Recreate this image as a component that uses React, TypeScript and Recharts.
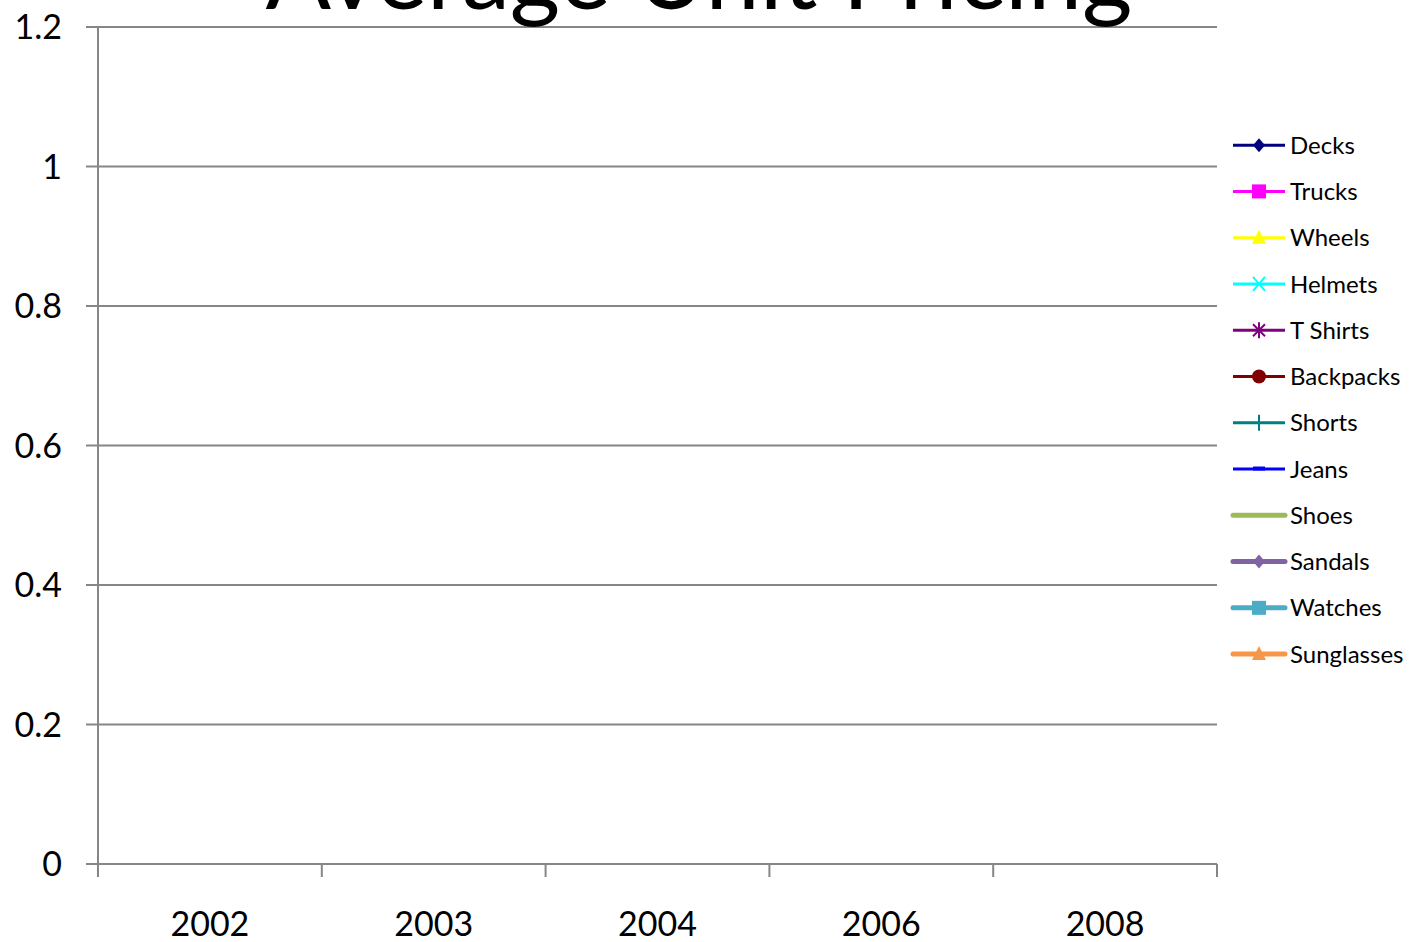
import React from 'react';
import { LineChart, Line, XAxis, YAxis, CartesianGrid, Legend, Customized } from 'recharts';

const years = ['2002', '2003', '2004', '2006', '2008'];
const yTicks = [0, 0.2, 0.4, 0.6, 0.8, 1, 1.2];

// No values are plotted in the reference: every series is empty
const decks = [null, null, null, null, null];
const trucks = [null, null, null, null, null];
const wheels = [null, null, null, null, null];
const helmets = [null, null, null, null, null];
const tShirts = [null, null, null, null, null];
const backpacks = [null, null, null, null, null];
const shorts = [null, null, null, null, null];
const jeans = [null, null, null, null, null];
const shoes = [null, null, null, null, null];
const sandals = [null, null, null, null, null];
const watches = [null, null, null, null, null];
const sunglasses = [null, null, null, null, null];

const seriesNames = ['Decks', 'Trucks', 'Wheels', 'Helmets', 'T Shirts', 'Backpacks', 'Shorts', 'Jeans', 'Shoes', 'Sandals', 'Watches', 'Sunglasses'];
const seriesValues = [decks, trucks, wheels, helmets, tShirts, backpacks, shorts, jeans, shoes, sandals, watches, sunglasses];
const seriesColors = ['#000080', '#FF00FF', '#FFFF00', '#00FFFF', '#800080', '#800000', '#008080', '#0000FF', '#9BBB59', '#8064A2', '#4BACC6', '#F79646'];
const seriesMarkers = ['diamond', 'square', 'triangle', 'x', 'star', 'circle', 'plus', 'dash', 'none', 'diamond', 'square', 'triangle'];
const seriesWidths = [3, 3, 3, 3, 3, 3, 3, 3, 5, 5, 5, 5];

const data = years.map((y, i) => {
  const row: any = { year: y };
  seriesNames.forEach((n, k) => {
    row[n] = seriesValues[k][i];
  });
  return row;
});

const FONT = 'Lato, "Open Sans", sans-serif';
const GRAY = '#868686';

function Marker({ type, color, cx, cy }: { type: string; color: string; cx: number; cy: number }) {
  switch (type) {
    case 'diamond':
      return <polygon points={`${cx},${cy - 7} ${cx + 6},${cy} ${cx},${cy + 7} ${cx - 6},${cy}`} fill={color} />;
    case 'square':
      return <rect x={cx - 7} y={cy - 7} width={14} height={14} fill={color} />;
    case 'triangle':
      return <polygon points={`${cx},${cy - 8} ${cx + 7},${cy + 6} ${cx - 7},${cy + 6}`} fill={color} />;
    case 'x':
      return (
        <g stroke={color} strokeWidth={2}>
          <line x1={cx - 6} y1={cy - 7} x2={cx + 6} y2={cy + 7} />
          <line x1={cx - 6} y1={cy + 7} x2={cx + 6} y2={cy - 7} />
        </g>
      );
    case 'star':
      return (
        <g stroke={color} strokeWidth={2}>
          <line x1={cx - 6} y1={cy - 6} x2={cx + 6} y2={cy + 6} />
          <line x1={cx - 6} y1={cy + 6} x2={cx + 6} y2={cy - 6} />
          <line x1={cx} y1={cy - 8} x2={cx} y2={cy + 8} />
        </g>
      );
    case 'circle':
      return <circle cx={cx} cy={cy} r={7} fill={color} />;
    case 'plus':
      return <line x1={cx} y1={cy - 8} x2={cx} y2={cy + 8} stroke={color} strokeWidth={2} />;
    case 'dash':
      return <line x1={cx - 6} y1={cy - 0.5} x2={cx + 6} y2={cy - 0.5} stroke={color} strokeWidth={4} />;
    default:
      return null;
  }
}

const ROW = 46.27;

function LegendContent() {
  return (
    <svg width={180} height={ROW * 12} style={{ display: 'block', overflow: 'visible' }}>
      {seriesNames.map((n, i) => {
        const cy = ROW / 2 + i * ROW;
        return (
          <g key={n}>
            <line x1={1} y1={cy} x2={53} y2={cy} stroke={seriesColors[i]} strokeWidth={seriesWidths[i]} strokeLinecap={i >= 8 ? 'round' : 'butt'} />
            <Marker type={seriesMarkers[i]} color={seriesColors[i]} cx={27} cy={cy} />
            <text x={58} y={cy} dy="0.36em" fontSize={24} fontFamily={FONT} fill="#000">
              {n}
            </text>
          </g>
        );
      })}
    </svg>
  );
}

function Title() {
  return (
    <text x={699} y={9} textAnchor="middle" fontSize={97} fontFamily={FONT} fill="#000">
      Average Unit Pricing
    </text>
  );
}

function CategoryTick(props: any) {
  const { x, y, payload, index, visibleTicksCount } = props;
  const half = payload && typeof payload.offset === 'number' && payload.offset > 0 ? payload.offset : 111.9;
  const axisY = y - 48;
  const isLast = index === (visibleTicksCount ?? years.length) - 1;
  return (
    <g>
      <line x1={x - half} y1={axisY} x2={x - half} y2={axisY + 13} stroke={GRAY} strokeWidth={2} />
      {isLast && <line x1={x + half} y1={axisY} x2={x + half} y2={axisY + 13} stroke={GRAY} strokeWidth={2} />}
      <text x={x} y={y} dy="0.71em" textAnchor="middle" fontSize={34} fontFamily={FONT} fill="#000">
        {payload.value}
      </text>
    </g>
  );
}

export default function App() {
  return (
    <div style={{ position: 'absolute', left: 0, top: 0, width: 1412, height: 942, background: '#fff' }}>
      <LineChart width={1412} height={942} data={data} margin={{ top: 27, right: 195, bottom: 0, left: 0 }}>
        <CartesianGrid vertical={false} stroke={GRAY} strokeWidth={2} yAxisId="y" xAxisId="cat" />
        <XAxis
          xAxisId="cat"
          dataKey="year"
          type="category"
          scale="band"
          height={78}
          tickLine={false}
          axisLine={{ stroke: GRAY, strokeWidth: 2 }}
          tickSize={0}
          tickMargin={48}
          tick={<CategoryTick />}
          interval={0}
        />
        <YAxis
          yAxisId="y"
          width={98}
          domain={[0, 1.2]}
          ticks={yTicks}
          allowDataOverflow
          tickSize={12}
          tickMargin={24}
          tickFormatter={(v: number) => String(v)}
          axisLine={{ stroke: GRAY, strokeWidth: 2 }}
          tickLine={{ stroke: GRAY, strokeWidth: 2 }}
          tick={{ fontSize: 34, fontFamily: FONT, fill: '#000' }}
        />
        {seriesNames.map((n, i) => (
          <Line
            key={n}
            xAxisId="cat"
            yAxisId="y"
            dataKey={n}
            stroke={seriesColors[i]}
            strokeWidth={seriesWidths[i]}
            isAnimationActive={false}
            connectNulls={false}
          />
        ))}
        <Legend
          layout="vertical"
          align="center"
          verticalAlign="middle"
          content={() => <LegendContent />}
          wrapperStyle={{ position: 'absolute', left: 1232, top: 122, width: 180 }}
        />
        <Customized component={<Title />} />
      </LineChart>
    </div>
  );
}
